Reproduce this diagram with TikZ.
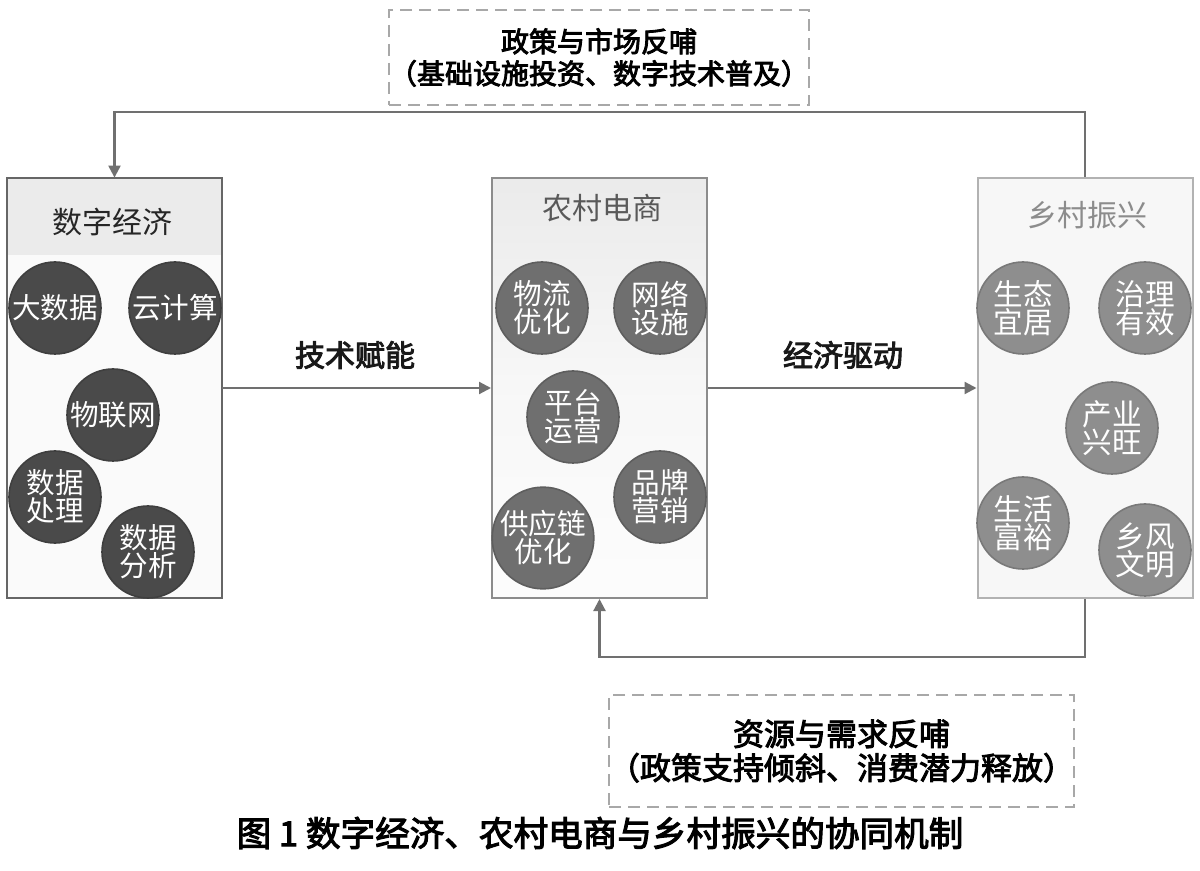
\documentclass[tikz,border=0pt]{standalone}
\usepackage{fontspec}
\setmainfont{Noto Sans CJK SC}
\newfontfamily\medfont{Noto Sans CJK SC}[FakeBold=3]
\usetikzlibrary{arrows.meta}
\definecolor{cdark}{HTML}{4A4A4A}
\definecolor{cmid}{HTML}{6F6F6F}
\definecolor{clight}{HTML}{8E8E8E}
\definecolor{conncol}{HTML}{707070}
\definecolor{dashcol}{HTML}{A8A8A8}
\definecolor{hdrcol}{HTML}{EBEBEB}
\begin{document}
\begin{tikzpicture}[x=0.5pt,y=-0.5pt,
  panel/.style={minimum width=107.5pt,minimum height=210pt,inner sep=0pt},
  bubble/.style={circle,minimum size=46pt,inner sep=0pt,text=white,align=center,
    font=\fontsize{14.3}{14}\selectfont},
  bdark/.style={bubble,fill=cdark,draw=cdark!85!black,line width=0.8pt},
  bmid/.style={bubble,fill=cmid,draw=cmid!85!black,line width=0.8pt},
  blight/.style={bubble,fill=clight,draw=clight!85!black,line width=0.8pt,
    font=\fontsize{14.8}{14}\selectfont},
  ptitle/.style={font=\fontsize{15}{15}\selectfont,inner sep=0pt},
  conn/.style={draw=conncol,line width=1.1pt},
  arr/.style={conn,-{Triangle[length=6pt,width=6pt]}},
  lbl/.style={font=\medfont\fontsize{15}{15}\selectfont,text=black!90,inner sep=0pt},
  dbox/.style={draw=dashcol,line width=0.9pt,dash pattern=on 6pt off 3.5pt,
    align=center,inner sep=0pt,fill=white},
  capt/.style={font=\medfont\fontsize{17.3}{17.3}\selectfont,inner sep=0pt}
]
\useasboundingbox (0,0) rectangle (1200,871);
\fill[white] (0,0) rectangle (1200,871);

% panels
\node[panel,fill=black!2] (L) at (114.5,388) {};
\fill[hdrcol] (L.north west) rectangle ([yshift=-38.5pt]L.north east);
\draw[draw=black!60,line width=1pt] (L.north west) rectangle (L.south east);

\node[panel,top color=black!8,bottom color=black!1,middle color=black!3,draw=black!45,line width=1pt] (M) at (599.5,388) {};

\node[panel,fill=black!3,draw=black!30,line width=1pt] (R) at (1085,388) {};

% titles
\node[ptitle,text=black!85] (Lt) at (113,222) {数字经济};
\node[ptitle,text=black!65] (Mt) at (602,208) {农村电商};
\node[ptitle,text=black!45] (Rt) at (1087,215) {乡村振兴};

% left bubbles
\node[bdark] (l1) at (55,308) {大数据};
\node[bdark] (l2) at (175,308) {云计算};
\node[bdark] (l3) at (113,415) {物联网};
\node[bdark] (l4) at (55,497) {数据\\处理};
\node[bdark] (l5) at (148,552) {数据\\分析};

% middle bubbles
\node[bmid] (m1) at (542,308) {物流\\优化};
\node[bmid] (m2) at (660,308) {网络\\设施};
\node[bmid] (m3) at (573,417) {平台\\运营};
\node[bmid] (m4) at (660,497) {品牌\\营销};
\node[bmid] (m5) at (543,538) {供应链\\优化};

% right bubbles
\node[blight] (r1) at (1023,308) {生态\\宜居};
\node[blight] (r2) at (1145,308) {治理\\有效};
\node[blight] (r3) at (1112,428) {产业\\兴旺};
\node[blight] (r4) at (1023,523) {生活\\富裕};
\node[blight] (r5) at (1145,550) {乡风\\文明};

% main arrows
\draw[arr] (L.east) -- (M.west);
\draw[arr] (M.east) -- (R.west);
\node[lbl] (t1) at (355,355) {技术赋能};
\node[lbl] (t2) at (843,355) {经济驱动};

% feedback loops
\coordinate (tr) at (1085,112);
\coordinate (tl) at (114.5,112);
\draw[arr] (R.north) -- (tr) -- (tl) -- (L.north);
\coordinate (br) at (1085,657);
\coordinate (bm) at (599.5,657);
\draw[arr] (R.south) -- (br) -- (bm) -- (M.south);

% dashed boxes
\node[dbox,minimum width=209pt,minimum height=47.5pt,
  font=\medfont\fontsize{14}{16}\selectfont] (fb1) at (599,57.5)
  {政策与市场反哺\\（基础设施投资、数字技术普及）};
\node[dbox,minimum width=231.5pt,minimum height=56pt,
  font=\medfont\fontsize{15.5}{17}\selectfont] (fb2) at (841.5,751)
  {资源与需求反哺\\（政策支持倾斜、消费潜力释放）};

% caption
\node[capt] (cap) at (600,833) {图 1 数字经济、农村电商与乡村振兴的协同机制};
\end{tikzpicture}
\end{document}
